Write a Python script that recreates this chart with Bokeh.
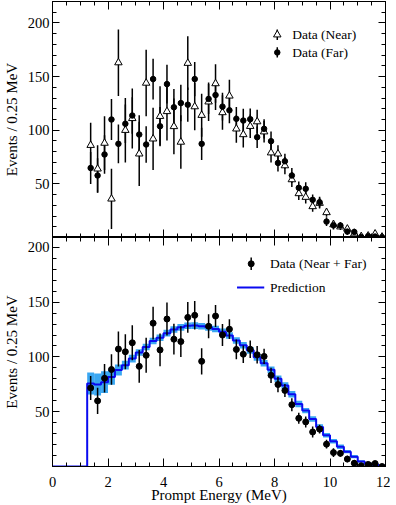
import numpy as np
from bokeh.plotting import figure
from bokeh.layouts import column
from bokeh.models import (ColumnDataSource, FixedTicker, LinearAxis, Range1d, Label,
                          CustomLabelingPolicy)
from bokeh.embed import file_html
from bokeh.resources import INLINE

# ---------------- data ----------------
energy = [1.375, 1.625, 1.875, 2.125, 2.375, 2.625, 2.875, 3.125, 3.375, 3.625,
          3.875, 4.125, 4.375, 4.625, 4.875, 5.125, 5.375, 5.625, 5.875, 6.125,
          6.375, 6.625, 6.875, 7.125, 7.375, 7.625, 7.875, 8.125, 8.375, 8.625,
          8.875, 9.125, 9.375, 9.625, 9.875, 10.125, 10.375, 10.625, 10.875, 11.125,
          11.375, 11.625, 11.875]
bin_half_width = 0.125

near_counts = [86, 64, 88, 36, 163, 100, 111, 78, 144, 92,
               113, 117.5, 103.5, 89, 162.5, 122, 114, 126.5, 143.5, 116.5,
               132, 101.3, 96, 103.7, 108, 98.6, 79, 78, 67, 54,
               41, 37.6, 28.9, 32, 23.3, 12, 10, 8, 3.5, 1,
               1.5, 3.4, 0.5]
near_err = [21, 22, 25, 28, 31, 30, 28, 30, 31, 29,
            28, 27, 26, 25, 25, 22, 20, 18, 18, 16,
            15, 13, 12, 11, 11, 10, 9, 8, 8, 7,
            6, 6, 5, 5, 4, 4, 3, 3, 3, 2,
            2, 2, 2]

far_counts = [64.8, 57.8, 77.4, 110, 87.3, 106, 113.7, 96, 86.7, 147.7,
              103.7, 143, 121.4, 125.3, 123.8, 147.7, 87.3, 129.2, 132.8, 122,
              118.6, 110.6, 109, 110.3, 93.5, 101.3, 89.8, 69.5, 71.1, 57.8,
              46.3, 45.4, 35.1, 32.9, 14.8, 11.5, 11.2, 5.5, 5.2, 0.5,
              1.2, 0.9, 0.2]
far_err = [15, 16, 18, 19, 18, 18, 17, 18, 17, 19,
           18, 18, 17, 17, 16, 16, 15, 14, 14, 13,
           12, 11, 11, 10, 10, 9, 9, 8, 7, 7,
           6, 6, 5, 5, 4, 4, 3, 3, 3, 2,
           2, 2, 2]

comb_counts = [71.7, 59.9, 80.5, 88.5, 107.2, 104.7, 112.9, 91.4, 101.5, 130.8,
               106.4, 134.6, 116.2, 114, 136.1, 138, 96, 128, 137.3, 120,
               125.3, 106.8, 102.5, 107, 102, 100.5, 83.2, 74.8, 69.4, 56.4,
               44, 40.7, 31.5, 34.1, 20.4, 12.7, 12, 6.8, 3, 0.7,
               1.9, 2.7, 0]
comb_err = [11, 12, 13, 14, 16, 16, 16, 15, 16, 15,
            15, 15, 14, 14, 14, 13, 12, 11, 10, 10,
            9, 9, 8, 8, 8, 7, 7, 7, 6, 6,
            5, 5, 5, 4, 4, 4, 3, 3, 3, 2,
            2, 2, 2]

prediction = [75.7, 74.8, 77, 81.7, 88, 92.5, 98.5, 104, 109, 114.5,
              117.5, 121.7, 125, 127, 128.5, 128.6, 128, 127, 125.5, 123,
              119.6, 115, 110.6, 106, 99.6, 94.2, 88.2, 80, 74, 66,
              57, 51, 43.4, 36, 28.5, 23, 18, 13.5, 9, 4.6,
              2.5, 1.5, 0.7]
prediction_err = [10, 10, 10, 7, 5, 4, 3.5, 3, 3, 3,
                  3, 3, 3, 3, 3, 3, 3, 3, 3, 3,
                  3, 3, 3, 3, 3, 3, 3, 3, 3, 3,
                  3, 2.5, 2.5, 2.5, 2, 2, 2, 1.5, 1.5, 1,
                  1, 1, 1]

x_major = [0, 2, 4, 6, 8, 10, 12]
x_minor = [0, 0.5, 1, 1.5, 2, 2.5, 3, 3.5, 4, 4.5, 5, 5.5, 6, 6.5, 7, 7.5,
           8, 8.5, 9, 9.5, 10, 10.5, 11, 11.5, 12]
y_major = [50, 100, 150, 200]
y_minor = [0, 10, 20, 30, 40, 50, 60, 70, 80, 90, 100, 110, 120, 130, 140,
           150, 160, 170, 180, 190, 200, 210, 220]

FONT = "Liberation Serif"
W = 390


def no_labels(axis):
    axis.major_label_text_font_size = "0px"
    axis.major_label_standoff = 0
    axis.major_label_policy = CustomLabelingPolicy(code="return new Set()")


def hidden_axis(ticker, tick_in):
    ax = LinearAxis(ticker=ticker, major_tick_in=tick_in,
                    major_tick_out=0, minor_tick_in=4, minor_tick_out=0,
                    axis_line_color="black", major_tick_line_color="black",
                    minor_tick_line_color="black")
    no_labels(ax)
    return ax


def make_fig(height, ymax, b_top, b_bottom, show_xlabels):
    p = figure(width=W, height=height, x_range=Range1d(0, 12), y_range=Range1d(0, ymax),
               output_backend="svg", toolbar_location=None,
               min_border_left=51, min_border_right=5,
               min_border_top=b_top, min_border_bottom=b_bottom,
               background_fill_color="white", border_fill_color="white")
    p.grid.visible = False
    p.outline_line_color = "black"
    p.outline_line_width = 1
    xt = FixedTicker(ticks=x_major, minor_ticks=x_minor)
    yt = FixedTicker(ticks=y_major, minor_ticks=y_minor)
    xa = p.xaxis[0]
    xa.ticker = xt
    xa.major_tick_in = 8
    xa.major_tick_out = 0
    xa.minor_tick_in = 4
    xa.minor_tick_out = 0
    xa.axis_line_color = "black"
    if show_xlabels:
        xa.major_label_text_font = FONT
        xa.major_label_text_font_size = "14.5px"
        xa.major_label_text_color = "black"
        xa.major_label_standoff = 10
        xa.axis_label = "Prompt Energy (MeV)"
        xa.axis_label_text_font = FONT
        xa.axis_label_text_font_size = "15px"
        xa.axis_label_text_font_style = "normal"
        xa.axis_label_text_color = "black"
        xa.axis_label_standoff = -3
    else:
        no_labels(xa)
    ya = p.yaxis[0]
    ya.ticker = yt
    ya.major_tick_in = 7
    ya.major_tick_out = 0
    ya.minor_tick_in = 4
    ya.minor_tick_out = 0
    ya.axis_line_color = "black"
    ya.major_label_text_font = FONT
    ya.major_label_text_font_size = "14.5px"
    ya.major_label_text_color = "black"
    ya.major_label_standoff = 3
    ya.axis_label = "Events / 0.25 MeV"
    ya.axis_label_text_font = FONT
    ya.axis_label_text_font_size = "15px"
    ya.axis_label_text_font_style = "normal"
    ya.axis_label_text_color = "black"
    ya.axis_label_standoff = 5
    p.add_layout(hidden_axis(xt, 8), "above")
    p.add_layout(hidden_axis(yt, 7), "right")
    return p


e = np.array(energy)

# ---------------- top panel ----------------
p1 = make_fig(237, 220, 1, 0, False)
near = np.array(near_counts)
nerr = np.array(near_err)
far = np.array(far_counts)
ferr = np.array(far_err)
src_near = ColumnDataSource(dict(x=e, y=near, lo=near - nerr, hi=near + nerr))
src_far = ColumnDataSource(dict(x=e, y=far, lo=far - ferr, hi=far + ferr))
p1.segment(x0="x", y0="lo", x1="x", y1="hi", source=src_near, line_color="black", line_width=1.5)
p1.segment(x0="x", y0="lo", x1="x", y1="hi", source=src_far, line_color="black", line_width=1.5)
p1.scatter(x="x", y="y", source=src_near, marker="triangle", size=7.5,
           fill_color="white", line_color="black", line_width=1)
p1.scatter(x="x", y="y", source=src_far, marker="circle", size=5.5,
           fill_color="black", line_color="black")

# legend (top)
leg1_x, leg1_text_x = 8.10, 8.64
leg1_y = [189, 172.5]
leg1_half = 4.8
p1.segment(x0=[leg1_x, leg1_x], y0=[v - leg1_half for v in leg1_y],
           x1=[leg1_x, leg1_x], y1=[v + leg1_half for v in leg1_y],
           line_color="black", line_width=1.5)
p1.scatter(x=[leg1_x], y=[leg1_y[0]], marker="triangle", size=7.5,
           fill_color="white", line_color="black", line_width=1)
p1.scatter(x=[leg1_x], y=[leg1_y[1]], marker="circle", size=5.5,
           fill_color="black", line_color="black")
for txt, yy in zip(["Data (Near)", "Data (Far)"], leg1_y):
    p1.add_layout(Label(x=leg1_text_x, y=yy, text=txt, text_font=FONT,
                        text_font_size="13.5px", text_baseline="middle",
                        text_color="black"))

# ---------------- bottom panel ----------------
p2 = make_fig(268, 209, 0, 35, True)
pred = np.array(prediction)
perr = np.array(prediction_err)
lo_edge = e - bin_half_width
hi_edge = e + bin_half_width
p2.quad(left=lo_edge, right=hi_edge, bottom=pred - perr, top=pred + perr,
         fill_color="#3aa7f2", line_color=None)
step_x = np.concatenate([[0, lo_edge[0]], np.column_stack([lo_edge, hi_edge]).ravel()])
step_y = np.concatenate([[0, 0], np.column_stack([pred, pred]).ravel()])
p2.line(step_x, step_y, line_color="#0a0af0", line_width=2)

comb = np.array(comb_counts)
cerr = np.array(comb_err)
src_comb = ColumnDataSource(dict(x=e, y=comb, lo=comb - cerr, hi=comb + cerr))
p2.segment(x0="x", y0="lo", x1="x", y1="hi", source=src_comb, line_color="black", line_width=1.5)
p2.scatter(x="x", y="y", source=src_comb, marker="circle", size=6,
           fill_color="black", line_color="black")

# legend (bottom)
leg2_x, leg2_y, leg2_half = 7.16, 185, 5.7
leg2_text_x = 7.84
pred_leg_x0, pred_leg_x1, pred_leg_y = 6.65, 7.63, 163.3
p2.segment(x0=[leg2_x], y0=[leg2_y - leg2_half], x1=[leg2_x], y1=[leg2_y + leg2_half],
           line_color="black", line_width=1.5)
p2.scatter(x=[leg2_x], y=[leg2_y], marker="circle", size=6,
           fill_color="black", line_color="black")
p2.line([pred_leg_x0, pred_leg_x1], [pred_leg_y, pred_leg_y], line_color="#0a0af0", line_width=2)
for txt, yy in zip(["Data (Near + Far)", "Prediction"], [leg2_y, pred_leg_y]):
    p2.add_layout(Label(x=leg2_text_x, y=yy, text=txt, text_font=FONT,
                        text_font_size="13.5px", text_baseline="middle",
                        text_color="black"))

layout = column(p1, p2, spacing=0)

open("out.html", "w").write(file_html(layout, INLINE))
